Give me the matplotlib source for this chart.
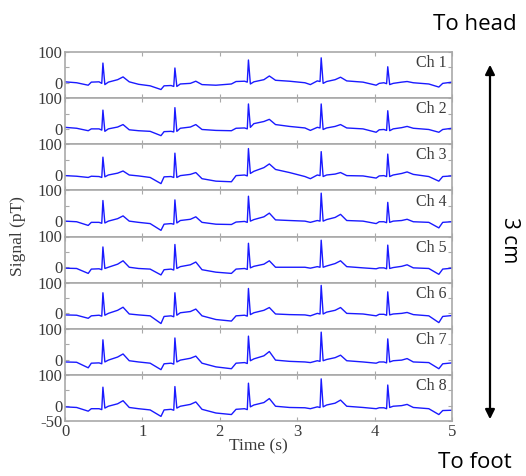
import numpy as np
import matplotlib
matplotlib.use('Agg')
import matplotlib.pyplot as plt

# sample times (s) of the traced waveform vertices, shared by all channels
t = [0.00, 0.15, 0.30, 0.34, 0.44, 0.475, 0.49, 0.515, 0.56, 0.68,
     0.75, 0.83, 0.95, 1.10, 1.24, 1.28, 1.37, 1.405, 1.42, 1.445,
     1.49, 1.62, 1.69, 1.77, 1.95, 2.15, 2.21, 2.32, 2.355, 2.37,
     2.395, 2.44, 2.57, 2.64, 2.72, 2.90, 3.10, 3.17, 3.26, 3.295,
     3.31, 3.335, 3.38, 3.49, 3.56, 3.64, 3.85, 4.02, 4.06, 4.12,
     4.155, 4.17, 4.195, 4.24, 4.35, 4.42, 4.50, 4.70, 4.83, 4.88, 5.00]

# signal per channel (pT)
ch1 = [3, 0, -8, 2, 3, -2, 64, -6, 2, 10,
       19, 3, -5, -10, -22, -10, -9, -12, 48, -12,
       -4, -2, 5, -6, -8, -4, 4, 5, 2, 74,
       -4, 3, 10, 22, 8, 5, 0, -6, 6, 4,
       81, -2, 4, 10, 18, 6, 2, -8, -2, 0,
       -3, 52, -6, -2, 2, 4, 0, -4, -14, -2, 2]
ch2 = [5, 2, -6, 0, 0, -4, 61, -8, 0, 6,
       14, -3, -6, -8, -22, -9, -8, -10, 69, -8,
       2, 6, 14, -2, -5, -6, 2, 3, 0, 81,
       5, 17, 24, 31, 14, 8, 3, -5, 5, 3,
       81, -2, 3, 8, 14, 3, 0, -11, -3, -2,
       -5, 59, -6, 0, 4, 8, 2, -2, -11, -2, 2]
ch3 = [-2, -4, -8, -4, -5, -8, 58, -6, 0, 6,
       13, 0, -3, -8, -28, -6, -5, -8, 71, -8,
       -2, 2, 8, -12, -20, -22, -2, 0, -3, 86,
       5, 12, 24, 36, 18, 8, -5, -12, 0, -2,
       76, -5, 0, 3, 8, -2, -3, -10, -3, -2,
       -5, 68, -5, 0, 5, 10, 2, -5, -20, -5, -3]
ch4 = [0, -2, -14, -4, -4, -7, 67, -6, 0, 8,
       17, 0, -4, -8, -30, -10, -8, -10, 69, -6,
       2, 6, 14, -4, -10, -11, -3, -1, -4, 81,
       0, 5, 14, 26, 4, 2, 0, -4, 2, 0,
       91, 0, 5, 12, 22, 2, 0, -8, -2, -2,
       -5, 61, -4, 0, 2, 6, -2, -4, -22, -4, -2]
ch5 = [-3, -4, -20, -6, -5, -8, 66, -4, 0, 10,
       21, 0, -4, -6, -25, -8, -6, -9, 74, -4,
       2, 8, 17, -8, -16, -20, -6, -4, -7, 78,
       -2, 3, 10, 21, 0, 0, 0, -3, 2, 0,
       88, 0, 4, 12, 21, 2, -2, -5, -2, -2,
       -5, 72, -4, -1, 3, 8, -2, -4, -23, -6, -3]
ch6 = [-5, -6, -16, -8, -6, -9, 67, -6, 0, 10,
       20, -2, -5, -8, -33, -10, -8, -11, 67, -6,
       2, 6, 14, -8, -20, -25, -8, -6, -9, 81,
       -4, 2, 10, 19, -2, -4, -5, -8, 0, -2,
       91, -2, 4, 10, 19, 0, -2, -8, -3, -3,
       -6, 70, -5, -2, 0, 3, -4, -8, -30, -10, -7]
ch7 = [-8, -9, -27, -12, -11, -14, 64, -8, -2, 8,
       18, -4, -8, -12, -33, -14, -12, -15, 70, -8,
       -2, 4, 11, -12, -24, -30, -12, -10, -13, 76,
       -4, 2, 12, 26, -2, -6, -8, -10, -4, -6,
       89, -4, 0, 6, 14, -4, -8, -12, -8, -8,
       -11, 67, -8, -4, -2, 3, -8, -10, -30, -14, -11]
ch8 = [-4, -6, -18, -10, -10, -13, 60, -8, -2, 6,
       16, -6, -10, -14, -35, -14, -12, -15, 62, -8,
       -2, 4, 12, -12, -24, -29, -12, -10, -13, 73,
       -4, 2, 10, 23, -2, -6, -7, -10, -4, -6,
       87, -4, 2, 8, 18, -2, -6, -10, -7, -7,
       -10, 67, -6, -2, 0, 4, -6, -10, -29, -16, -15]

channels = [ch1, ch2, ch3, ch4, ch5, ch6, ch7, ch8]
names = ['Ch %d' % (i + 1) for i in range(8)]

serif = 'Liberation Serif'
frame = '#a9a9a9'
txt = '#3a3a3a'

fig = plt.figure(figsize=(5.26, 4.76), dpi=100)
left, right = 65 / 526.0, 452 / 526.0
top, bottom = 1 - 52 / 476.0, 1 - 421 / 476.0
h = (top - bottom) / 8

for i, (y, name) in enumerate(zip(channels, names)):
    ax = fig.add_axes([left, top - (i + 1) * h, right - left, h])
    ax.plot(t, y, color='#1a1aff', lw=1.0)
    ax.set_xlim(0, 5)
    ax.set_ylim(-50, 100)
    ax.set_yticks([-50, 0, 50, 100])
    ax.set_xticks([0, 1, 2, 3, 4, 5])
    if i == 7:
        ax.set_yticklabels(['-50', '0', '', '100'])
    else:
        ax.set_yticklabels(['', '0', '', '100'])
        ax.set_xticklabels([])
    ax.tick_params(direction='in', length=3, width=0.8, color=frame,
                   top=True, right=True, labelsize=12, labelcolor=txt, pad=2)
    for lab in ax.get_xticklabels() + ax.get_yticklabels():
        lab.set_family(serif)
    for s in ax.spines.values():
        s.set_color(frame)
        s.set_linewidth(1.2)
    ax.text(0.985, 0.93, name, transform=ax.transAxes, ha='right', va='top',
            fontsize=11.5, family=serif, color=txt)
    if i == 7:
        ax.set_xlabel('Time (s)', fontsize=12.5, family=serif, color=txt, labelpad=-1)

fig.text(0.035, (top + bottom) / 2, 'Signal (pT)', rotation=90,
         ha='center', va='center', fontsize=12.5, family=serif, color=txt)

# head-to-foot orientation marker
fig.text(0.903, 0.948, 'To head', fontsize=16, family='Open Sans', ha='center', va='center')
fig.text(0.903, 0.028, 'To foot', fontsize=16, family='Open Sans', ha='center', va='center')
fig.text(0.968, 0.495, '3 cm', rotation=-90, fontsize=15, family='Open Sans',
         ha='center', va='center')
fig.patches.append(matplotlib.patches.FancyArrowPatch(
    (490 / 526.0, 1 - 422 / 476.0), (490 / 526.0, 1 - 62 / 476.0),
    transform=fig.transFigure, arrowstyle='<|-|>', mutation_scale=14,
    lw=1.6, color='black'))

fig.savefig('out.png', dpi=100)
